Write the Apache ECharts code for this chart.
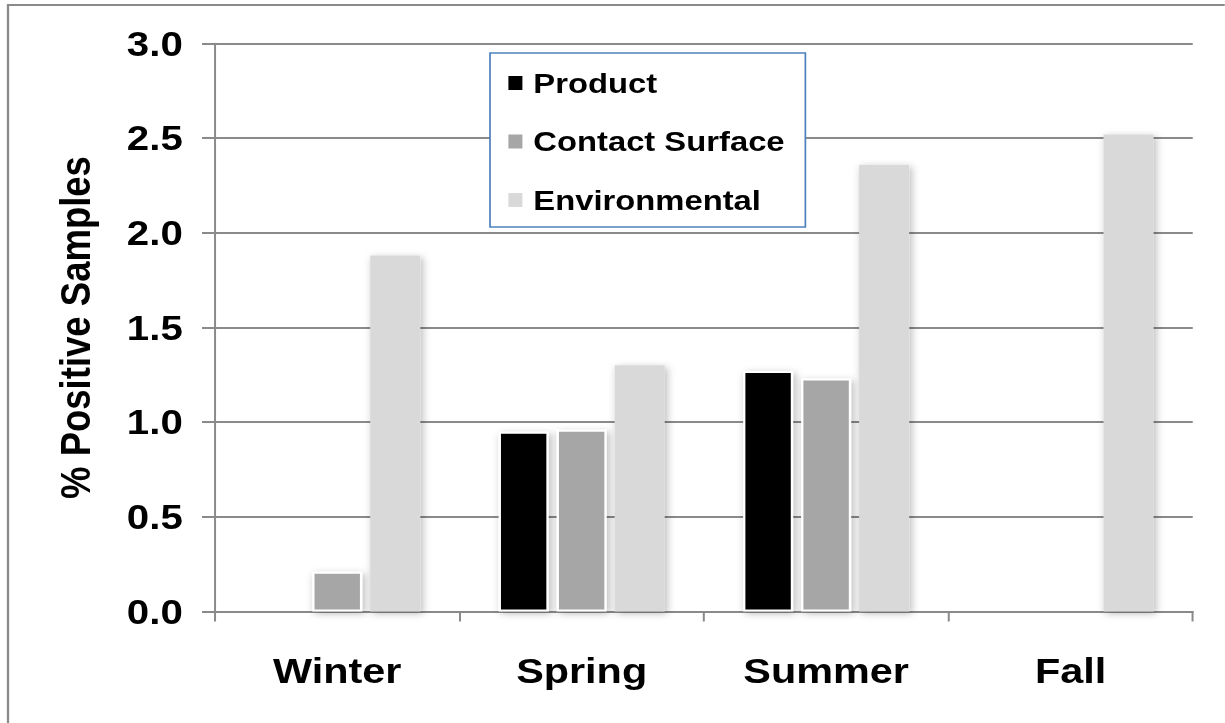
<!DOCTYPE html>
<html>
<head>
<meta charset="utf-8">
<title>% Positive Samples by Season</title>
<script src="https://cdn.jsdelivr.net/npm/echarts@6/dist/echarts.min.js"></script>
<style>
  html, body { margin: 0; padding: 0; background: #fff; overflow: hidden; }
  /* The chart is laid out on a narrower canvas and widened horizontally,
     which gives the broad, wide-set lettering of the original figure. */
  #wrap { width: 1225px; height: 723px; overflow: hidden; }
  #chart { width: 1065.2px; height: 723px; transform: scaleX(1.15); transform-origin: 0 0; }
</style>
</head>
<body>
<div id="wrap"><div id="chart"></div></div>
<script>
// Seasons on the category axis
const seasons = ['Winter', 'Spring', 'Summer', 'Fall'];

// Percentage of positive samples per sample type
const productValues = [0, 0.95, 1.27, 0];
const contactSurfaceValues = [0.21, 0.96, 1.23, 0];
const environmentalValues = [1.88, 1.30, 2.36, 2.52];

// Value axis ticks
const yTicks = [0, 0.5, 1.0, 1.5, 2.0, 2.5, 3.0];

const FONT = 'Liberation Sans';
const GRID_GRAY = '#8a8a8a';
const SX = 1.15; // horizontal widening applied to the chart element

const chart = echarts.init(document.getElementById('chart'), null, { renderer: 'svg' });

// Zero values get no outline or shadow so nothing is drawn on the baseline
function barData(values) {
  return values.map(function (v) {
    if (v === 0) {
      return { value: v, itemStyle: { opacity: 0, borderWidth: 0, shadowBlur: 0 } };
    }
    return v;
  });
}

function barSeries(name, values, color, withBorder) {
  return {
    name: name,
    type: 'bar',
    data: barData(values),
    barWidth: 50 / SX,
    barGap: '16%',
    itemStyle: {
      color: color,
      borderColor: withBorder ? '#ffffff' : color,
      borderWidth: withBorder ? 2 : 0,
      shadowBlur: 7,
      shadowColor: 'rgba(0,0,0,0.28)',
      shadowOffsetX: 2,
      shadowOffsetY: 2
    },
    emphasis: { disabled: true }
  };
}

chart.setOption({
  animation: false,
  backgroundColor: '#ffffff',
  textStyle: { fontFamily: FONT, fontWeight: 'bold', color: '#000' },
  graphic: [
    {
      // outer frame of the chart area
      type: 'rect',
      shape: { x: 8 / SX, y: 5, width: 1200, height: 740 },
      style: { fill: 'none', stroke: '#8a8a8a', lineWidth: 2 },
      silent: true,
      z: -10
    }
  ],
  grid: {
    left: 215 / SX,
    right: 32 / SX,
    top: 43.5,
    bottom: 111.5,
    containLabel: false
  },
  legend: {
    orient: 'vertical',
    left: 490 / SX,
    top: 53,
    padding: [13, 18, 10, 16],
    itemGap: 24.5,
    itemWidth: 14 / SX,
    itemHeight: 14,
    icon: 'rect',
    borderColor: '#4f81bd',
    borderWidth: 1.5,
    backgroundColor: '#ffffff',
    selectedMode: false,
    itemStyle: { borderWidth: 0, shadowBlur: 0, shadowOffsetX: 0, shadowOffsetY: 0 },
    textStyle: {
      fontFamily: FONT,
      fontWeight: 'bold',
      fontSize: 28.5,
      color: '#000',
      lineHeight: 34,
      padding: [0, 0, 0, 4.5]
    },
    data: ['Product', 'Contact Surface', 'Environmental']
  },
  xAxis: {
    type: 'category',
    data: seasons,
    boundaryGap: true,
    axisLine: { show: true, lineStyle: { color: GRID_GRAY, width: 2 } },
    axisTick: { show: true, inside: false, length: 10, alignWithLabel: false, lineStyle: { color: GRID_GRAY, width: 2 / SX } },
    axisLabel: {
      margin: 41,
      fontFamily: FONT,
      fontWeight: 'bold',
      fontSize: 36,
      color: '#000'
    },
    splitLine: { show: false }
  },
  yAxis: {
    type: 'value',
    min: yTicks[0],
    max: yTicks[yTicks.length - 1],
    interval: yTicks[1] - yTicks[0],
    name: '% Positive Samples',
    nameLocation: 'middle',
    nameGap: 103,
    nameRotate: 90,
    nameTextStyle: {
      fontFamily: FONT,
      fontWeight: 'bold',
      fontSize: 36.5,
      color: '#000'
    },
    axisLine: { show: true, lineStyle: { color: GRID_GRAY, width: 2 / SX } },
    axisTick: { show: true, inside: false, length: 13 / SX, lineStyle: { color: GRID_GRAY, width: 2 } },
    axisLabel: {
      margin: 28,
      fontFamily: FONT,
      fontWeight: 'bold',
      fontSize: 35,
      color: '#000',
      formatter: function (v) { return v.toFixed(1); }
    },
    splitLine: { show: true, lineStyle: { color: GRID_GRAY, width: 2 } }
  },
  series: [
    barSeries('Product', productValues, '#000000', true),
    barSeries('Contact Surface', contactSurfaceValues, '#a6a6a6', true),
    barSeries('Environmental', environmentalValues, '#d9d9d9', false)
  ]
});
</script>
</body>
</html>
